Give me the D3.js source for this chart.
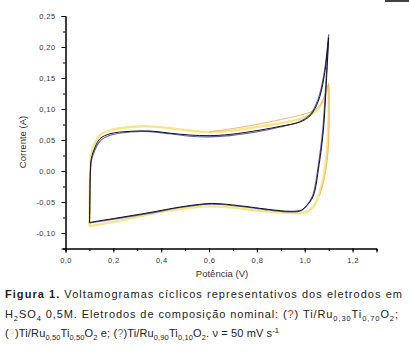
<!DOCTYPE html>
<html><head><meta charset="utf-8">
<script src="https://cdn.jsdelivr.net/npm/d3@7"></script>
<style>body{margin:0;background:#fff}svg{display:block}</style>
</head><body>
<svg id="c" width="409" height="356"></svg>
<script>
// Data (Potential V, Current A)
const blackAnodic = [[0.100,-0.083],[0.101,-0.07],[0.102,-0.04],[0.104,0.0],[0.108,0.02],[0.119,0.034],[0.144,0.052],[0.186,0.060],[0.27,0.064],[0.353,0.0645],[0.437,0.061],[0.52,0.058],[0.60,0.057],[0.688,0.059],[0.813,0.066],[0.897,0.072],[0.98,0.079],[1.022,0.089],[1.056,0.112],[1.08,0.15],[1.10,0.215]];
const blackCathodic = [[1.10,0.215],[1.09,0.14],[1.078,0.066],[1.06,0.01],[1.035,-0.041],[1.008,-0.056],[0.987,-0.063],[0.94,-0.065],[0.85,-0.062],[0.75,-0.057],[0.65,-0.053],[0.60,-0.0525],[0.48,-0.058],[0.353,-0.067],[0.228,-0.075],[0.10,-0.083]];
const blueAnodic = [[0.100,-0.084],[0.101,-0.07],[0.102,-0.04],[0.104,-0.002],[0.109,0.018],[0.121,0.032],[0.146,0.049],[0.19,0.058],[0.27,0.063],[0.353,0.0635],[0.437,0.060],[0.52,0.056],[0.60,0.055],[0.688,0.057],[0.813,0.064],[0.897,0.071],[0.98,0.080],[1.022,0.091],[1.056,0.116],[1.08,0.155],[1.10,0.220]];
const blueCathodic = [[1.10,0.220],[1.088,0.14],[1.075,0.066],[1.057,0.01],[1.032,-0.041],[1.005,-0.057],[0.985,-0.064],[0.94,-0.066],[0.85,-0.063],[0.75,-0.058],[0.65,-0.054],[0.60,-0.0535],[0.48,-0.059],[0.353,-0.068],[0.228,-0.076],[0.10,-0.084]];
const yellowAnodic = [[0.100,-0.089],[0.101,-0.06],[0.103,0.0],[0.108,0.027],[0.12,0.043],[0.145,0.058],[0.19,0.066],[0.27,0.071],[0.35,0.072],[0.44,0.069],[0.52,0.065],[0.60,0.063],[0.69,0.065],[0.80,0.071],[0.90,0.077],[0.98,0.084],[1.03,0.092],[1.06,0.102],[1.08,0.116],[1.10,0.138]];
const yellowCathodic = [[1.10,0.138],[1.099,0.08],[1.092,0.03],[1.078,-0.01],[1.058,-0.04],[1.035,-0.058],[1.012,-0.065],[0.98,-0.068],[0.90,-0.067],[0.80,-0.064],[0.70,-0.059],[0.60,-0.057],[0.50,-0.060],[0.40,-0.066],[0.30,-0.074],[0.20,-0.082],[0.10,-0.089]];
const orangeAnodic = [[0.60,0.063],[0.69,0.068],[0.80,0.075],[0.90,0.083],[0.98,0.090],[1.03,0.096],[1.06,0.104],[1.08,0.118],[1.10,0.142]];
const orangeCathodic = [[1.10,0.142],[1.102,0.08],[1.097,0.03],[1.083,-0.01],[1.062,-0.04]];
const xTicks = [0,0.2,0.4,0.6,0.8,1.0,1.2];
const yTicks = [-0.10,-0.05,0,0.05,0.10,0.15,0.20,0.25];

const svg = d3.select("#c");
const x = d3.scaleLinear().domain([0,1.3]).range([65.5,376.5]);
const y = d3.scaleLinear().domain([-0.125,0.25]).range([248.5,16]);
const fmt = (d,p)=>d3.format("."+p+"f")(d).replace(".",",").replace("−","-");

// axes
const xa = svg.append("g").attr("transform","translate(0,248.5)");
xa.call(d3.axisBottom(x).tickValues(d3.range(0,1.31,0.1)).tickSize(2.5).tickFormat(""));
xa.append("g").call(d3.axisBottom(x).tickValues(xTicks).tickSize(4).tickFormat(d=>fmt(d,1)));
const ya = svg.append("g").attr("transform","translate(65.5,0)");
ya.call(d3.axisLeft(y).tickValues(d3.range(-0.125,0.2501,0.025)).tickSize(2.5).tickFormat(""));
ya.append("g").call(d3.axisLeft(y).tickValues(yTicks).tickSize(4).tickFormat(d=>fmt(d,2)));
svg.selectAll(".domain").attr("stroke","#000");
svg.selectAll(".tick line").attr("stroke","#000");
svg.selectAll(".tick text").attr("font-family","Liberation Sans, Arial, sans-serif").attr("font-size","7.5px").attr("fill","#333").attr("letter-spacing","0.4px");
xa.selectAll(".tick text").attr("dy","1.0em");
ya.selectAll(".tick text").attr("dx","-0.4em");

svg.append("text").attr("transform","translate(26,142) rotate(-90)").attr("text-anchor","middle")
  .attr("font-family","Liberation Sans, Arial, sans-serif").attr("font-size","9.5px").attr("fill","#333").text("Corrente (A)");
svg.append("text").attr("x",222).attr("y",277).attr("text-anchor","middle")
  .attr("font-family","Liberation Sans, Arial, sans-serif").attr("font-size","9.5px").attr("fill","#333").text("Potência (V)");

const line = d3.line().x(d=>x(d[0])).y(d=>y(d[1])).curve(d3.curveCatmullRom);
function draw(data,color,w){svg.append("path").datum(data).attr("d",line).attr("fill","none").attr("stroke",color).attr("stroke-width",w).attr("stroke-linejoin","round");}
draw(yellowAnodic,"#f7e58a",2.4); draw(yellowCathodic,"#f7e58a",2.4);
draw(orangeAnodic,"#e8b06a",0.9); draw(orangeCathodic,"#e8b06a",0.9);
draw(blueAnodic,"#5d5dae",1.1); draw(blueCathodic,"#5d5dae",1.1);
draw(blackAnodic,"#111",1); draw(blackCathodic,"#111",1);

// small artifacts
svg.append("line").attr("x1",385).attr("x2",409).attr("y1",1).attr("y2",1).attr("stroke","#000").attr("stroke-width",1.5);

// caption: segments [text, mode, color]; mode: n normal, s sub, p sup, b bold
const cap = svg.append("g").attr("font-family","Liberation Sans, Arial, sans-serif").attr("font-size","11px").attr("fill","#222");
function writeLine(yPos, segs, len){
  const t = cap.append("text").attr("x",5).attr("y",yPos);
  if(len) t.attr("textLength",len).attr("lengthAdjust","spacing");
  let cur = 0;
  segs.forEach(([s,m,c])=>{
    const target = m==="s"?2.5:(m==="p"?-4:0);
    const ts = t.append("tspan").attr("dy",target-cur).text(s);
    cur = target;
    if(m==="s"||m==="p") ts.attr("font-size","7.5px");
    if(m==="b") ts.attr("font-weight","bold");
    if(c) ts.attr("fill",c);
  });
}
writeLine(298,[["Figura 1. ","b"],["Voltamogramas cíclicos representativos dos eletrodos em","n"]],397);
writeLine(318,[["H","n"],["2","s"],["SO","n"],["4","s"],[" 0,5M. Eletrodos de composição nominal: (","n"],["?","n","#c0392b"],[") Ti/Ru","n"],["0,30","s"],["Ti","n"],["0,70","s"],["O","n"],["2","s"],[";","n"]],393);
writeLine(337,[["(","n"],["?","n","#efe08a"],[")Ti/Ru","n"],["0,50","s"],["Ti","n"],["0,50","s"],["O","n"],["2","s"],[" e; (","n"],["?","n","#777"],[")Ti/Ru","n"],["0,90","s"],["Ti","n"],["0,10","s"],["O","n"],["2","s"],[". ν = 50 mV s","n"],["-1","p"]],274);
</script>
</body></html>
